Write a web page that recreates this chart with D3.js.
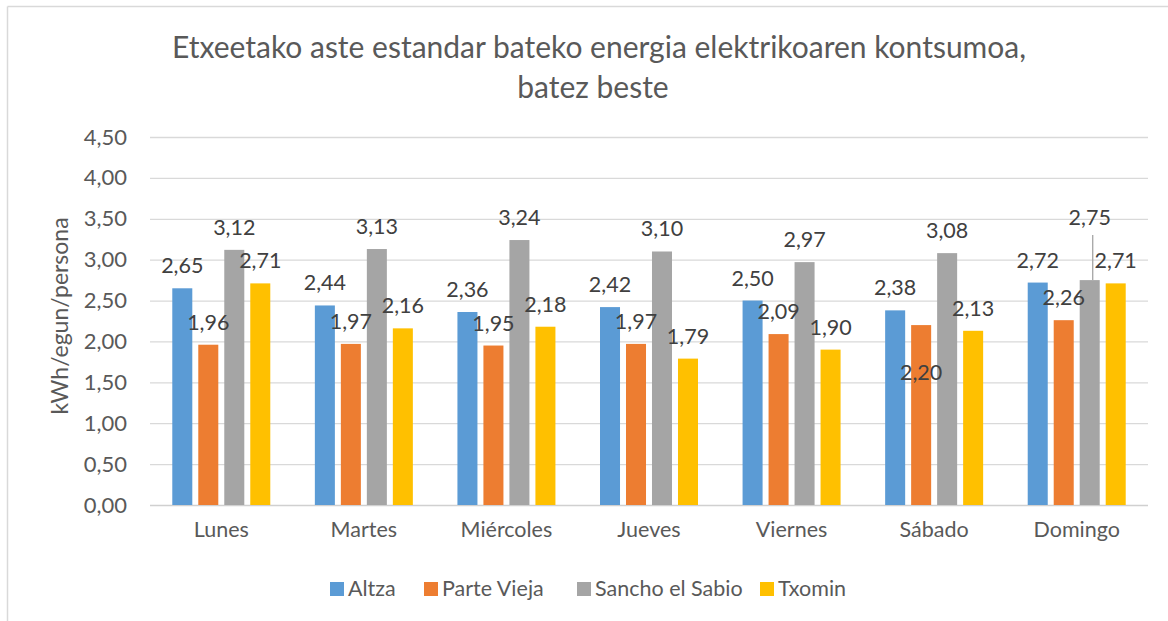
<!DOCTYPE html>
<html>
<head>
<meta charset="utf-8">
<script src="https://cdn.jsdelivr.net/npm/d3@7"></script>
<style>
  body { margin: 0; background: #fff; }
  text { font-family: Lato, "Open Sans", sans-serif; }
</style>
</head>
<body>
<svg id="chart" width="1168" height="621"></svg>
<script>
// dias de la semana
var days = ["Lunes", "Martes", "Miércoles", "Jueves", "Viernes", "Sábado", "Domingo"];
var seriesNames = ["Altza", "Parte Vieja", "Sancho el Sabio", "Txomin"];
var colors = ["#5b9bd5", "#ed7d31", "#a5a5a5", "#ffc000"];

var altza = [2.65, 2.44, 2.36, 2.42, 2.50, 2.38, 2.72];
var parteVieja = [1.96, 1.97, 1.95, 1.97, 2.09, 2.20, 2.26];
var sancho = [3.12, 3.13, 3.24, 3.10, 2.97, 3.08, 2.75];
var txomin = [2.71, 2.16, 2.18, 1.79, 1.90, 2.13, 2.71];

var yTicks = [0, 0.5, 1, 1.5, 2, 2.5, 3, 3.5, 4, 4.5];

var allSeries = [altza, parteVieja, sancho, txomin];

var svg = d3.select("#chart");

// marco del grafico (solo arriba e izquierda se ven)
svg.append("line").attr("x1", 7.5).attr("x2", 1168).attr("y1", 6.5).attr("y2", 6.5)
    .style("stroke", "#d9d9d9").style("stroke-width", 1.5);
svg.append("line").attr("x1", 7.5).attr("x2", 7.5).attr("y1", 6.5).attr("y2", 621)
    .style("stroke", "#d9d9d9").style("stroke-width", 1.5);

var x0 = d3.scaleBand().domain(days).range([150, 1148]).paddingInner(0).paddingOuter(0);
var x1 = d3.scaleBand().domain(seriesNames).range([-49, 49]).paddingInner(0.23);
var y = d3.scaleLinear().domain([0, 4.5]).range([505, 137]);

var fmt = function (v) { return d3.format(".2f")(v).replace(".", ","); };

// gridlines
svg.append("g")
    .selectAll("line")
    .data(yTicks)
    .enter().append("line")
    .attr("x1", 150).attr("x2", 1148)
    .attr("y1", function (d) { return y(d) + 0.5; })
    .attr("y2", function (d) { return y(d) + 0.5; })
    .style("stroke", function (d) { return d === 0 ? "#d0d0d0" : "#d9d9d9"; })
    .style("stroke-width", 1.3);

// eje y
var yAxis = d3.axisLeft(y).tickValues(yTicks).tickSize(0).tickPadding(0).tickFormat(fmt);
var gy = svg.append("g").attr("transform", "translate(127,0)").call(yAxis);
gy.select(".domain").remove();
gy.selectAll("text").style("font-size", "22px").style("fill", "#595959")
    .style("font-family", "Lato, sans-serif");

// eje x
var xAxis = d3.axisBottom(x0).tickSize(0).tickPadding(0);
var gx = svg.append("g").attr("transform", "translate(0,522)").call(xAxis);
gx.select(".domain").remove();
gx.selectAll("text").style("font-size", "21.5px").style("fill", "#595959")
    .style("font-family", "Lato, sans-serif");

function barX(s, i) {
    return x0(days[i]) + x0.bandwidth() / 2 + x1(seriesNames[s]);
}

// barras
var barsG = svg.append("g");
var labelsG = svg.append("g");

allSeries.forEach(function (serie, s) {
    barsG.append("g").selectAll("rect")
        .data(serie)
        .enter().append("rect")
        .attr("x", function (d, i) { return barX(s, i); })
        .attr("y", function (d) { return y(d); })
        .attr("width", x1.bandwidth())
        .attr("height", function (d) { return y(0) - y(d); })
        .style("fill", colors[s]);

    // etiquetas encima de todas las barras
    labelsG.append("g").selectAll("text")
        .data(serie)
        .enter().append("text")
        .attr("x", function (d, i) { return barX(s, i) + x1.bandwidth() / 2; })
        .attr("y", function (d, i) {
            // Sabado Parte Vieja: etiqueta debajo del borde
            if (s === 1 && i === 5) return y(d) + 55;
            // Domingo Sancho: etiqueta subida con linea guia
            if (s === 2 && i === 6) return y(d) - 55;
            return y(d) - 15;
        })
        .attr("text-anchor", "middle")
        .style("font-size", "21.5px")
        .style("fill", "#404040")
        .text(function (d) { return fmt(d); });

    if (s === 2) {
        var i = 6;
        var cx = barX(s, i) + x1.bandwidth() / 2 + 3;
        barsG.append("line")
            .attr("x1", cx).attr("x2", cx)
            .attr("y1", y(serie[i]) - 45).attr("y2", y(serie[i]))
            .style("stroke", "#a5a5a5").style("stroke-width", 1.3);
    }
});

// titulo
var title = svg.append("text").attr("text-anchor", "middle")
    .style("font-size", "30px").style("fill", "#595959");
title.append("tspan").attr("x", 599).attr("y", 58)
    .text("Etxeetako aste estandar bateko energia elektrikoaren kontsumoa,");
title.append("tspan").attr("x", 593).attr("y", 98).text("batez beste");

// titulo eje y
svg.append("text")
    .attr("transform", "translate(68,316) rotate(-90)")
    .attr("text-anchor", "middle")
    .style("font-size", "23px").style("fill", "#595959")
    .text("kWh/egun/persona");

// leyenda
var legendX = [330, 424, 577, 760];
var legend = svg.append("g").selectAll("g")
    .data(seriesNames)
    .enter().append("g")
    .attr("transform", function (d, i) { return "translate(" + legendX[i] + ",582)"; });
legend.append("rect").attr("width", 14).attr("height", 14)
    .style("fill", function (d, i) { return colors[i]; });
legend.append("text").attr("x", 18).attr("y", 14)
    .style("font-size", "21.5px").style("fill", "#595959")
    .text(function (d) { return d; });
</script>
</body>
</html>
